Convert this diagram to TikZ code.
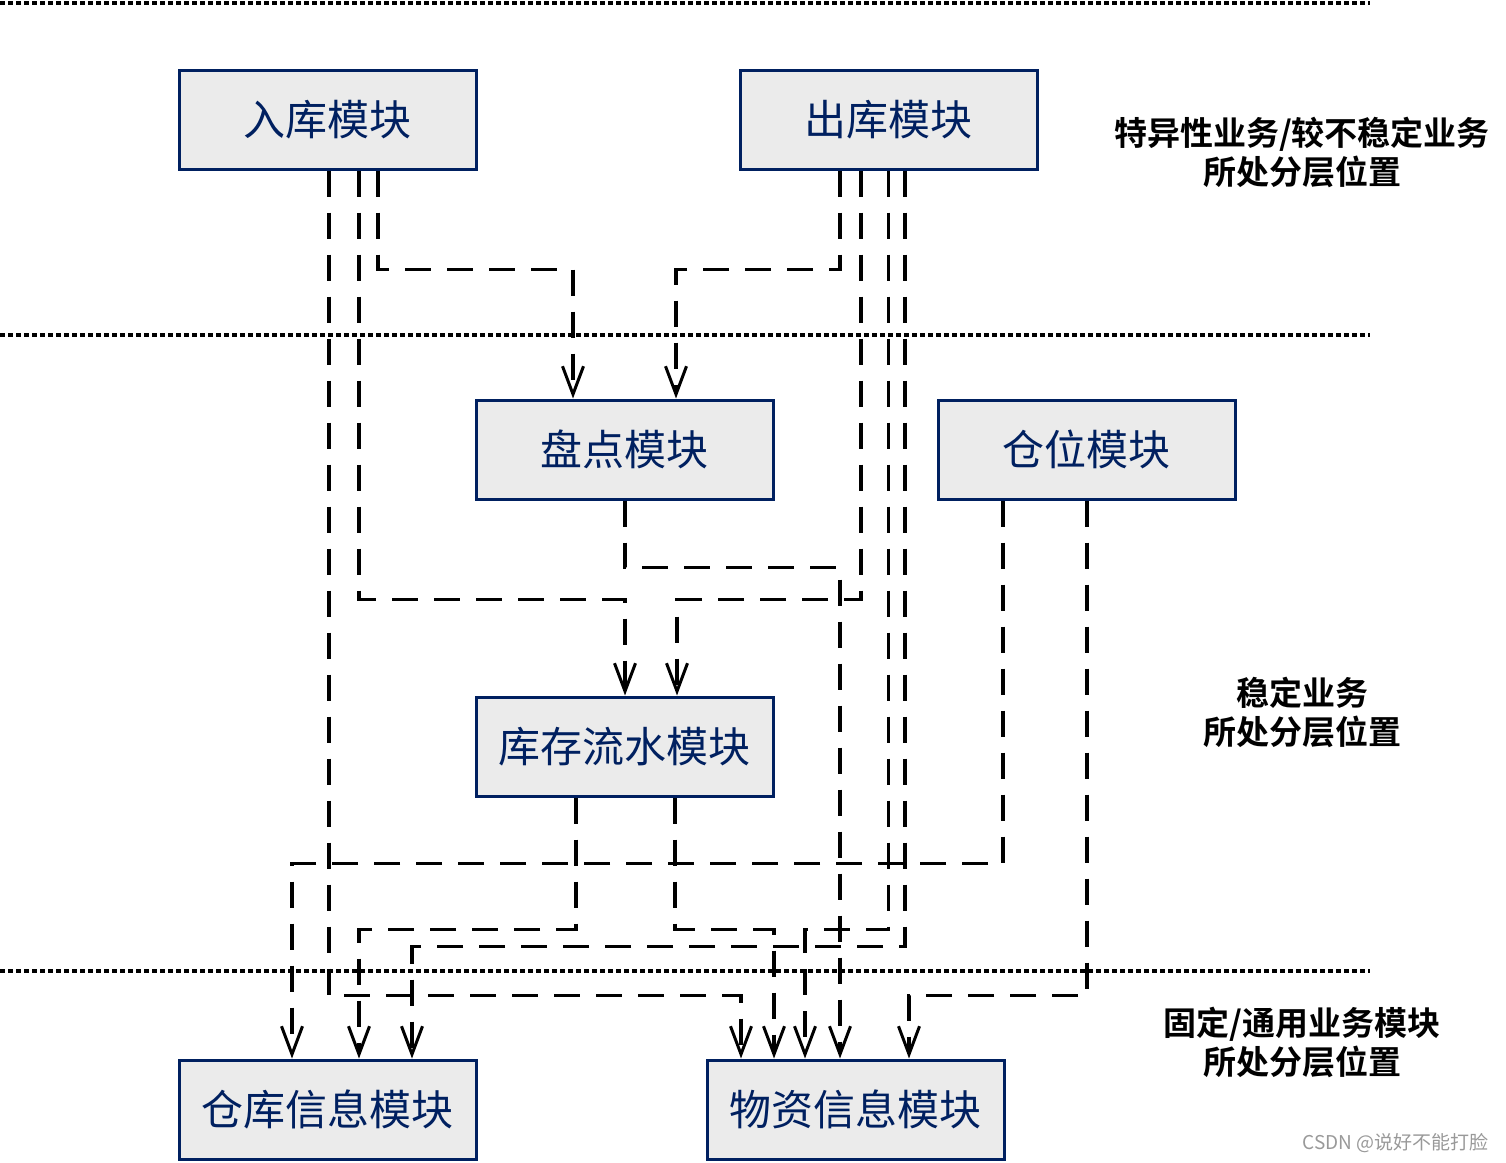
\documentclass[tikz,border=0pt]{standalone}
\usepackage{fontspec}
\usetikzlibrary{arrows.meta}
\newfontfamily\cjk{Noto Sans CJK SC}
\newfontfamily\cjkb{Noto Sans CJK SC Bold}
\definecolor{navy}{HTML}{002060}
\definecolor{boxfill}{HTML}{EBEBEB}
\tikzset{
  modbox/.style={draw=navy,fill=boxfill,line width=3pt,minimum width=297pt,minimum height=99pt,
    inner sep=0pt,text=navy,font=\cjk\fontsize{42}{48}\selectfont},
  conn/.style={line width=3.2pt,dash pattern=on 26pt off 16pt,
    -{Straight Barb[length=28pt,width=21pt,line width=3pt]}},
  layerline/.style={line width=3.2pt,dash pattern=on 4.5pt off 3.5pt},
  layerlabel/.style={align=center,font=\cjkb\fontsize{33}{39}\selectfont},
}
\begin{document}
\begin{tikzpicture}[x=1pt,y=-1pt]
\useasboundingbox (0,0) rectangle (1506,1162);
% layer separators
\coordinate (l1a) at (0,3);   \coordinate (l1b) at (1370,3);
\coordinate (l2a) at (0,335); \coordinate (l2b) at (1370,335);
\coordinate (l3a) at (0,971); \coordinate (l3b) at (1370,971);
\draw[layerline] (l1a) -- (l1b);
\draw[layerline] (l2a) -- (l2b);
\draw[layerline] (l3a) -- (l3b);
% modules
\node[modbox] (rk) at (327.5,119.5) {入库模块};
\node[modbox] (ck) at (888.5,119.5) {出库模块};
\node[modbox] (pd) at (624.5,449.5) {盘点模块};
\node[modbox] (cw) at (1086.5,449.5) {仓位模块};
\node[modbox] (ls) at (624.5,746.5) {库存流水模块};
\node[modbox] (ckx) at (327.5,1109.5) {仓库信息模块};
\node[modbox] (wz) at (855.5,1109.5) {物资信息模块};
% connectors
\draw[conn] ([xshift=50.5pt]rk.south) -- ++(0,99) -| ([xshift=-51.5pt]pd.north);
\draw[conn] ([xshift=-48.5pt]ck.south) -- ++(0,99) -| ([xshift=51.5pt]pd.north);
\draw[conn] ([xshift=31.5pt]rk.south) -- ++(0,429) -| ([xshift=0.5pt]ls.north);
\draw[conn] ([xshift=-27.5pt]ck.south) -- ++(0,429) -| ([xshift=52.5pt]ls.north);
\draw[conn] ([xshift=0.5pt]pd.south) -- ++(0,67) -| ([xshift=-15.5pt]wz.north);
\draw[conn] ([xshift=1.5pt]rk.south) -- ++(0,825) -| ([xshift=-114.5pt]wz.north);
\draw[conn] ([xshift=0pt]ck.south) -- ++(0,759) -| ([xshift=-50.5pt]wz.north);
\draw[conn] ([xshift=16.5pt]ck.south) -- ++(0,776) -| ([xshift=84.5pt]ckx.north);
\draw[conn] ([xshift=-48.5pt]ls.south) -- ++(0,132) -| ([xshift=31.5pt]ckx.north);
\draw[conn] ([xshift=50.5pt]ls.south) -- ++(0,132) -| ([xshift=-81.5pt]wz.north);
\draw[conn] ([xshift=-83.5pt]cw.south) -- ++(0,363) -| ([xshift=-35.5pt]ckx.north);
\draw[conn] ([xshift=0.5pt]cw.south) -- ++(0,495) -| ([xshift=53.5pt]wz.north);
% layer labels
\node[layerlabel] (t1) at (1302,152) {特异性业务/较不稳定业务\\所处分层位置};
\node[layerlabel] (t2) at (1302,712) {稳定业务\\所处分层位置};
\node[layerlabel] (t3) at (1302,1042) {固定/通用业务模块\\所处分层位置};
\node[text=black!40,font=\cjk\fontsize{19}{22}\selectfont,anchor=east] (wm) at (1492,1143) {CSDN @说好不能打脸};
\end{tikzpicture}
\end{document}
